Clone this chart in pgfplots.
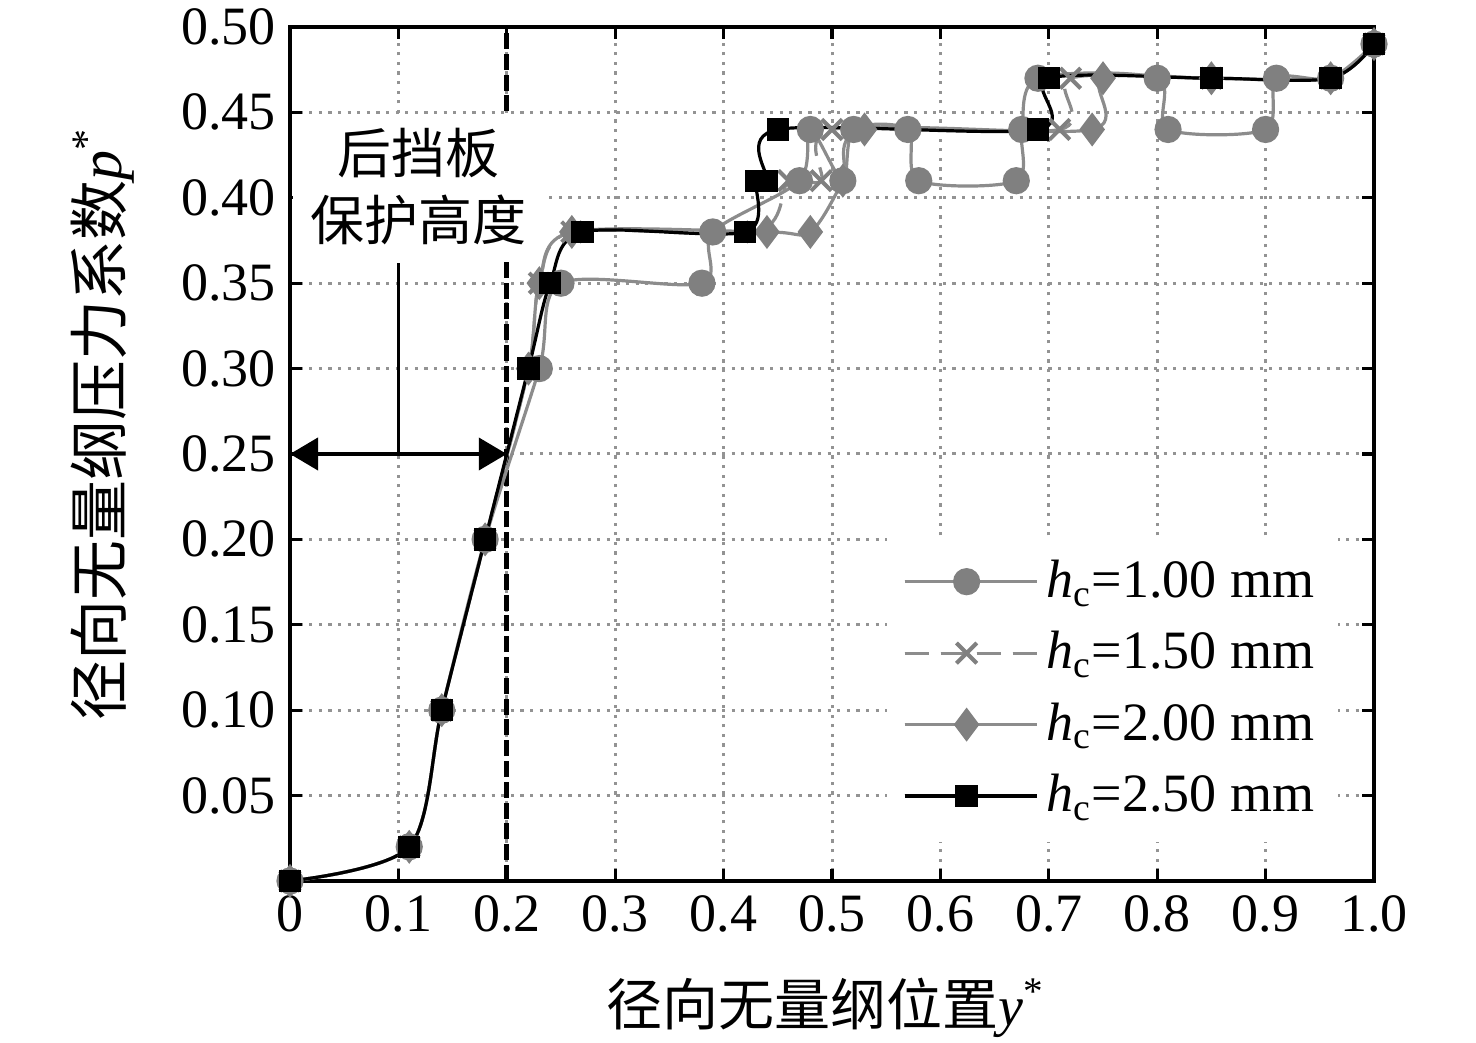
\documentclass[border=0pt]{standalone}
\usepackage{fontspec}
\setmainfont{Liberation Serif}
\newfontfamily\cjk{Noto Sans CJK SC}
\usepackage{pgfplots}
\pgfplotsset{compat=1.18}
\usetikzlibrary{arrows.meta}
\definecolor{cgray}{RGB}{128,128,128}
\definecolor{lgray}{RGB}{140,140,140}

\begin{document}
\begin{tikzpicture}
\begin{axis}[
  scale only axis, width=271pt, height=213.5pt,
  xmin=0, xmax=1, ymin=0, ymax=0.5,
  xtick={0,0.1,0.2,0.3,0.4,0.5,0.6,0.7,0.8,0.9,1.0},
  xticklabels={0,0.1,0.2,0.3,0.4,0.5,0.6,0.7,0.8,0.9,1.0},
  ytick={0.05,0.10,0.15,0.20,0.25,0.30,0.35,0.40,0.45,0.50},
  yticklabels={0.05,0.10,0.15,0.20,0.25,0.30,0.35,0.40,0.45,0.50},
  tick align=inside, major tick length=3pt,
  tick style={black, line width=0.8pt},
  axis line style={line width=1pt},
  grid=major,
  grid style={gray!85, line width=0.75pt, dash pattern=on 0.8pt off 1.6pt},
  ticklabel style={font=\fontsize{13.5}{16}\selectfont},
  clip=false,
  legend cell align=left,
  legend style={at={(0.55,0.405)}, anchor=north west, draw=none, fill=white,
    font=\fontsize{13.5}{16}\selectfont, row sep=3pt, inner xsep=4pt, inner ysep=4pt},
  legend image code/.code={\path (0pt,0pt) -- (33pt,0pt);\draw[mark repeat=2,mark phase=2,#1] plot coordinates {(0pt,0pt)(15.5pt,0pt)(31pt,0pt)};},
]
% annotations
\draw[line width=1.2pt, dash pattern=on 4pt off 1.2pt] (axis cs:0.2,0) -- (axis cs:0.2,0.5);
\draw[{Triangle[length=7pt,width=8pt]}-{Triangle[length=7pt,width=8pt]}, line width=1pt] (axis cs:0,0.25) -- (axis cs:0.2,0.25);
\draw[line width=0.9pt] (axis cs:0.1,0.25) -- (axis cs:0.1,0.362);
\node[fill=white, inner sep=0pt, minimum width=63pt, minimum height=35.75pt, align=center,
      font=\cjk\fontsize{13.5}{16.75}\selectfont] at (axis cs:0.119,0.4066) {后挡板\\保护高度};

\addplot[lgray, line width=0.8pt, smooth, tension=0.5, mark=*, mark size=3pt,
  mark options={solid, fill=cgray, draw=cgray}] coordinates {
 (0,0) (0.11,0.02) (0.14,0.10) (0.18,0.20) (0.23,0.30) (0.25,0.35) (0.38,0.35)
 (0.39,0.38) (0.47,0.41) (0.48,0.44) (0.51,0.41) (0.52,0.44) (0.57,0.44) (0.58,0.41)
 (0.67,0.41) (0.675,0.44) (0.69,0.47) (0.80,0.47) (0.81,0.44) (0.90,0.44) (0.91,0.47)
 (0.96,0.47) (1.00,0.49)};
\addlegendentry{\textit{h}\textsubscript{c}=1.00 mm}

\addplot[lgray, line width=0.8pt, smooth, tension=0.5, dash pattern=on 6pt off 3pt,
  mark=x, mark size=3.6pt, mark options={solid, line width=1pt, draw=cgray}] coordinates {
 (0,0) (0.11,0.02) (0.14,0.10) (0.18,0.20) (0.22,0.30) (0.23,0.35) (0.26,0.38) (0.43,0.38)
 (0.46,0.41) (0.49,0.41) (0.50,0.44) (0.71,0.44) (0.72,0.47) (0.85,0.47) (0.96,0.47) (1.00,0.49)};
\addlegendentry{\textit{h}\textsubscript{c}=1.50 mm}

\addplot[lgray, line width=0.8pt, smooth, tension=0.5, mark=diamond*, mark size=3.6pt,
  mark options={solid, fill=cgray, draw=cgray}] coordinates {
 (0,0) (0.11,0.02) (0.14,0.10) (0.18,0.20) (0.22,0.30) (0.23,0.35) (0.26,0.38) (0.44,0.38)
 (0.48,0.38) (0.51,0.41) (0.53,0.44) (0.74,0.44) (0.75,0.47) (0.85,0.47) (0.96,0.47) (1.00,0.49)};
\addlegendentry{\textit{h}\textsubscript{c}=2.00 mm}

\addplot[black, line width=0.8pt, smooth, tension=0.5, mark=square*, mark size=2.4pt,
  mark options={solid, fill=black}] coordinates {
 (0,0) (0.11,0.02) (0.14,0.10) (0.18,0.20) (0.22,0.30) (0.24,0.35) (0.27,0.38) (0.42,0.38)
 (0.43,0.41) (0.44,0.41) (0.45,0.44) (0.69,0.44) (0.70,0.47) (0.85,0.47) (0.96,0.47) (1.00,0.49)};
\addlegendentry{\textit{h}\textsubscript{c}=2.50 mm}

\node[rotate=90, font=\cjk\fontsize{15}{18}\selectfont] at (rel axis cs:-0.1725,0.535)
  {径向无量纲压力系数{\rmfamily\itshape p}\textsuperscript{\rmfamily *}};
\node[font=\cjk\fontsize{14}{17}\selectfont] at (rel axis cs:0.494,-0.148)
  {径向无量纲位置{\rmfamily\itshape y}\textsuperscript{\rmfamily *}};
\end{axis}
\pgfresetboundingbox
\path (current axis.south west) +(-72.5pt,-40.5pt) coordinate (bbA);
\path (current axis.north east) +(25.5pt,6.75pt) coordinate (bbB);
\useasboundingbox (bbA) rectangle (bbB);
\end{tikzpicture}
\end{document}
